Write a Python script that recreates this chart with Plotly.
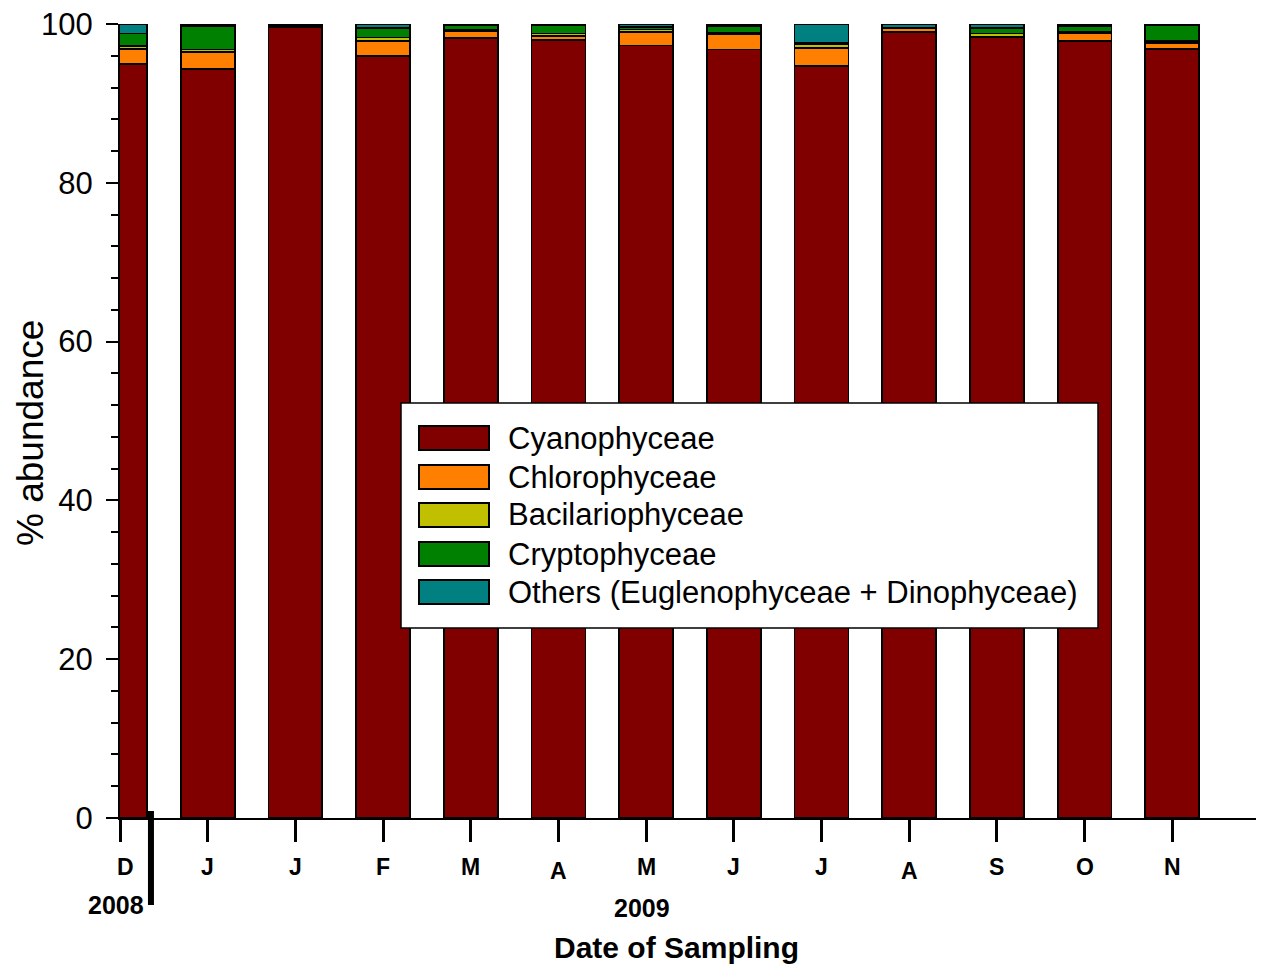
import plotly.graph_objects as go

# ---------------- data ----------------
months = ["D", "J", "J", "F", "M", "A", "M", "J", "J", "A", "S", "O", "N"]
years = ["2008", "2009"]
series_names = ["Cyanophyceae", "Chlorophyceae", "Bacilariophyceae",
                "Cryptophyceae", "Others (Euglenophyceae + Dinophyceae)"]
cyanophyceae     = [95.0, 94.3, 99.6, 96.0, 98.2, 98.0, 97.3, 96.8, 94.7, 99.0, 98.3, 97.9, 96.9]
chlorophyceae    = [1.9,  2.2,  0.0,  1.9,  0.9,  0.5,  1.7,  1.9,  2.3,  0.5,  0.1,  0.9,  0.7]
bacilariophyceae = [0.3,  0.3,  0.1,  0.4,  0.2,  0.3,  0.3,  0.2,  0.5,  0.0,  0.4,  0.2,  0.3]
cryptophyceae    = [1.6,  2.9,  0.1,  1.2,  0.6,  1.0,  0.3,  0.8,  0.1,  0.0,  0.7,  0.7,  2.0]
others           = [1.2,  0.3,  0.2,  0.5,  0.1,  0.2,  0.4,  0.3,  2.4,  0.5,  0.5,  0.3,  0.1]

colors = ["#800000", "#FF8000", "#C0C000", "#008000", "#008080"]
values = [cyanophyceae, chlorophyceae, bacilariophyceae, cryptophyceae, others]

# ---------------- geometry helpers (page pixel -> paper) ----------------
# the page body has an 8px margin, so the figure starts at (8, 8)
OFF = 8
W, H = 1264 - OFF, 965 - OFF
PL, PR, PT, PB = 120, 1260, 24, 818          # plot area in page pixels
L, T = PL - OFF, PT - OFF
R = W - (PR - OFF)
B = H - (PB - OFF)


def px(x):
    return (x - PL) / (PR - PL)


def py(y):
    return (PB - y) / (PB - PT)


xidx = list(range(len(months)))

fig = go.Figure()
for name, vals, col in zip(series_names, values, colors):
    fig.add_trace(go.Bar(
        x=xidx, y=vals, name=name, width=0.615,
        marker=dict(color=col, line=dict(color="black", width=1.8)),
        showlegend=False,
    ))

font_reg = "Liberation Sans, Arial, sans-serif"
font_bold = "Liberation Sans Narrow, Arial Narrow, Liberation Sans, Arial, sans-serif"

shapes = []
annotations = []

# legend box
shapes.append(dict(type="rect", xref="paper", yref="paper", layer="above",
                   x0=px(401), x1=px(1098), y0=py(628), y1=py(403),
                   fillcolor="white", line=dict(color="black", width=1.5)))
row_y = [438, 477, 515, 554, 592]
for name, col, ry in zip(series_names, colors, row_y):
    shapes.append(dict(type="rect", xref="paper", yref="paper", layer="above",
                       x0=px(419), x1=px(489), y0=py(ry + 12), y1=py(ry - 12),
                       fillcolor=col, line=dict(color="black", width=2)))
    annotations.append(dict(text=name, xref="paper", yref="paper",
                            x=px(506), y=py(ry), xanchor="left", yanchor="middle",
                            showarrow=False, font=dict(family=font_reg, size=31, color="black")))

# month labels
for i, m in enumerate(months):
    yy = 871 if m == "A" else 867
    xoff = 5 if i == 0 else 0
    annotations.append(dict(text="<b>%s</b>" % m, x=i, xref="x", xshift=xoff,
                            y=py(yy), yref="paper", xanchor="center", yanchor="middle",
                            showarrow=False, font=dict(family=font_bold, size=23, color="black")))

# year labels
annotations.append(dict(text="<b>%s</b>" % years[0], x=px(116), xref="paper", y=py(905), yref="paper",
                        xanchor="center", yanchor="middle", showarrow=False,
                        font=dict(family=font_bold, size=25, color="black")))
annotations.append(dict(text="<b>%s</b>" % years[1], x=px(642), xref="paper", y=py(908), yref="paper",
                        xanchor="center", yanchor="middle", showarrow=False,
                        font=dict(family=font_bold, size=25, color="black")))

# axis titles
annotations.append(dict(text="<b>Date of Sampling</b>", x=px(676), xref="paper", y=py(947), yref="paper",
                        xanchor="center", yanchor="middle", showarrow=False,
                        font=dict(family=font_bold, size=30, color="black")))
annotations.append(dict(text="% abundance", x=px(30), xref="paper", y=py(433), yref="paper",
                        xanchor="center", yanchor="middle", textangle=-90, showarrow=False,
                        font=dict(family=font_reg, size=37, color="black")))

# year separator
shapes.append(dict(type="line", xref="x", yref="paper", x0=0.353, x1=0.353,
                   y0=py(811), y1=py(905), line=dict(color="black", width=6)))

fig.update_layout(
    barmode="stack",
    width=W, height=H,
    margin=dict(l=L, r=R, t=T, b=B, pad=0, autoexpand=False),
    paper_bgcolor="white", plot_bgcolor="white",
    shapes=shapes, annotations=annotations,
    showlegend=False,
    xaxis=dict(range=[0, 13], tickvals=xidx, ticks="outside", ticklen=22, tickwidth=3,
               tickcolor="black", showticklabels=False, showgrid=False, zeroline=False,
               showline=True, linecolor="black", linewidth=2, automargin=False),
    yaxis=dict(range=[0, 100], tickvals=[0, 20, 40, 60, 80, 100], ticks="outside",
               ticklen=12, tickwidth=2, tickcolor="black", ticklabeloverflow="allow",
               ticklabelstandoff=7, automargin=False,
               minor=dict(dtick=4, ticks="outside", ticklen=7, tickwidth=2, tickcolor="black"),
               showgrid=False, zeroline=False, showline=True, linecolor="black", linewidth=2,
               tickfont=dict(family=font_reg, size=31, color="black")),
)

fig.write_html("out.html")
